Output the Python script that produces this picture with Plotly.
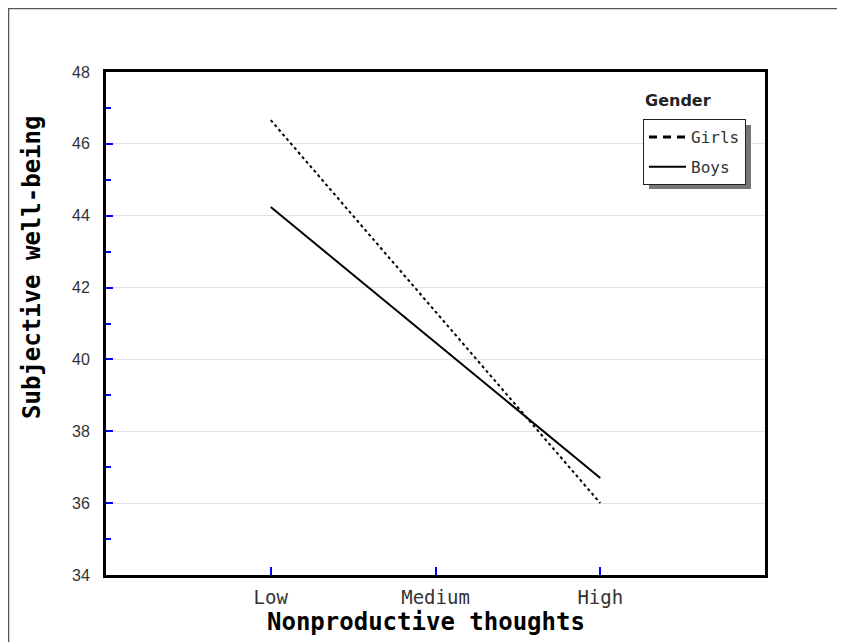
import plotly.graph_objects as go

categories = ["Low", "Medium", "High"]
girls = [46.66, 41.33, 36.0]
boys = [44.24, 40.47, 36.70]
y_ticks = [34, 36, 38, 40, 42, 44, 46, 48]

# page has an 8px body margin; work in page pixel coordinates
OFF = 8
W, H = 845 - OFF, 642 - OFF
PL, PR, PT, PB = 106, 765, 72, 575  # plot box in page pixels
L, R, T, B = PL - OFF, 845 - PR, PT - OFF, 642 - PB
pw, ph = W - L - R, H - T - B

def px(x):
    return (x - PL) / pw

def py(y):
    return 1 - (y - PT) / ph

fig = go.Figure()
fig.add_trace(go.Scatter(x=[0, 1, 2], y=girls, mode="lines", name="Girls", showlegend=False,
                         line=dict(color="black", width=2, dash="3px,3px")))
# legend sample for Girls (longer dashes, as in the original key)
fig.add_trace(go.Scatter(x=[None], y=[None], mode="lines", name="Girls", legendgroup="g",
                         line=dict(color="black", width=3, dash="8px,6px")))
fig.add_trace(go.Scatter(x=[0, 1, 2], y=boys, mode="lines", name="Boys", legendgroup="b",
                         line=dict(color="black", width=2)))

mono = "DejaVu Sans Mono"
fig.update_layout(
    width=W, height=H,
    margin=dict(l=L, r=R, t=T, b=B),
    paper_bgcolor="white", plot_bgcolor="white",
    showlegend=True,
    legend=dict(x=px(643), y=py(119), xanchor="left", yanchor="top",
                bgcolor="white", bordercolor="#222", borderwidth=1,
                font=dict(family=mono, size=16, color="#333"),
                itemwidth=37, tracegroupgap=6),
    xaxis=dict(range=[-1, 3], tickmode="array", tickvals=[0, 1, 2], ticktext=categories,
               showline=True, linecolor="black", linewidth=3, mirror=True,
               ticks="inside", ticklen=8, tickcolor="blue", tickwidth=2,
               showgrid=False, zeroline=False, ticklabelstandoff=3,
               tickfont=dict(family=mono, size=19, color="#333")),
    yaxis=dict(range=[34, 48], tickmode="array", tickvals=y_ticks,
               showline=True, linecolor="black", linewidth=3, mirror=True,
               ticks="inside", ticklen=7, tickcolor="blue", tickwidth=2,
               minor=dict(ticks="inside", dtick=1, tick0=34, ticklen=5, tickcolor="blue",
                          tickwidth=2, showgrid=False),
               showgrid=True, gridcolor="#e3e3e3", gridwidth=1, zeroline=False,
               ticklabelstandoff=10,
               tickfont=dict(family="Liberation Sans Narrow, Liberation Sans", size=16, color="#333")),
)

# axis titles
fig.add_annotation(text="<b>Nonproductive thoughts</b>", xref="paper", yref="paper",
                   x=px(426), y=py(622), xanchor="center", yanchor="middle", showarrow=False,
                   font=dict(family=mono, size=24, color="black"))
fig.add_annotation(text="<b>Subjective well-being</b>", xref="paper", yref="paper",
                   x=px(32), y=py(268), xanchor="center", yanchor="middle", showarrow=False,
                   textangle=-90, font=dict(family=mono, size=24, color="black"))

# outer frame
fig.add_shape(type="line", xref="paper", yref="paper", x0=px(8), x1=px(850), y0=py(8.5), y1=py(8.5),
              line=dict(color="#555", width=1.5))
fig.add_shape(type="line", xref="paper", yref="paper", x0=px(8.5), x1=px(8.5), y0=py(8), y1=py(650),
              line=dict(color="#555", width=1.5))
# legend shadow
fig.add_shape(type="rect", xref="paper", yref="paper", x0=px(649), x1=px(751), y0=py(125), y1=py(189),
              line=dict(width=0), fillcolor="#777", layer="above")

fig.add_annotation(text="<b>Gender</b>", xref="paper", yref="paper", x=px(643), y=py(101),
                   xanchor="left", yanchor="middle", showarrow=False,
                   font=dict(family="DejaVu Sans", size=16, color="#222"))

fig.write_html("out.html")
